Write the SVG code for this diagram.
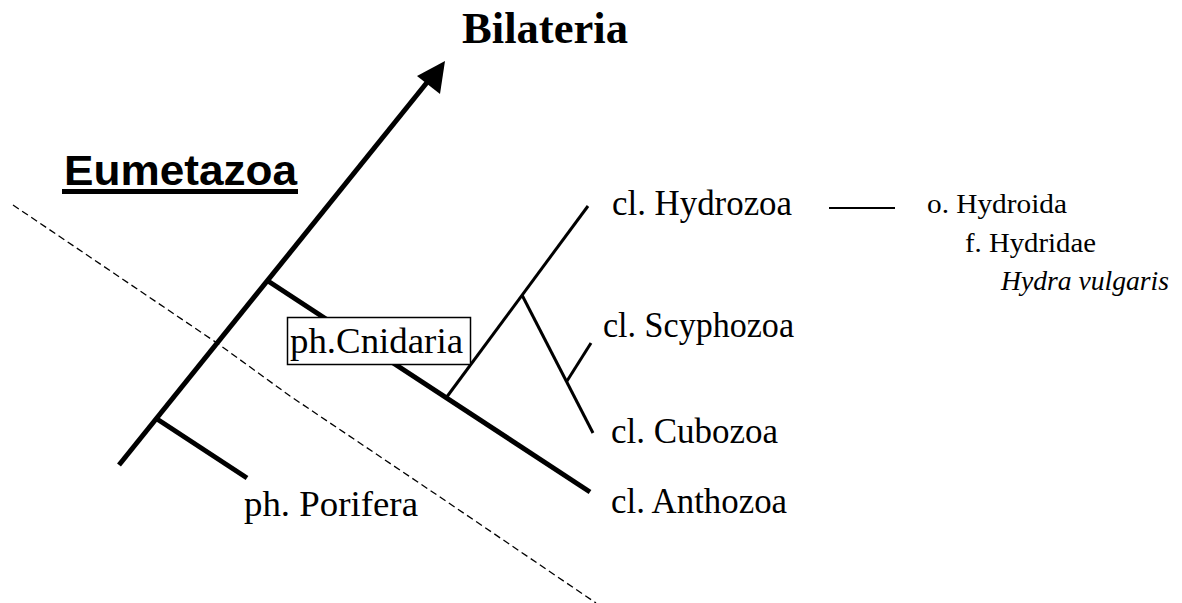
<svg xmlns="http://www.w3.org/2000/svg" width="1182" height="603" viewBox="0 0 1182 603">
<style>
.serif{font-family:"Liberation Serif","Times New Roman",serif;fill:#000}
.cls{font-size:35px}
.ph{font-size:36px}
.small{font-size:28px}
.thick{stroke:#000;stroke-width:5;fill:none;stroke-linecap:butt}
.thin{stroke:#000;stroke-width:3;fill:none}
.dash{stroke:#000;stroke-width:1.3;fill:none;stroke-dasharray:7 4}
</style>
<rect width="1182" height="603" fill="#fff"/>
<g id="connectors">
<polyline class="dash" points="13,205 217,343 290,396 440,497 596,603"/>
<line class="thick" x1="119" y1="465" x2="433" y2="75"/>
<polygon points="445,61 417,76 440,94" fill="#000"/>
<line class="thick" x1="157" y1="419" x2="247" y2="478"/>
<line class="thick" x1="268" y1="281" x2="590" y2="492"/>
<line class="thin" x1="446" y1="398" x2="588" y2="206"/>
<line class="thin" x1="522" y1="295" x2="593" y2="433"/>
<line class="thin" x1="567" y1="381" x2="591" y2="343"/>
<line stroke="#000" stroke-width="2" x1="829" y1="208" x2="895" y2="208"/>
</g>
<g id="bilateria">
<text x="462" y="43" font-family="Liberation Serif, Times New Roman, serif" font-weight="bold" font-size="44" textLength="166" lengthAdjust="spacingAndGlyphs">Bilateria</text>
</g>
<g id="eumetazoa">
<text x="64" y="185" font-family="Liberation Sans, Arial, sans-serif" font-weight="bold" font-size="43" textLength="233" lengthAdjust="spacingAndGlyphs">Eumetazoa</text>
<rect x="62" y="189" width="236" height="5" fill="#000"/>
</g>
<g id="cnidaria">
<rect x="287.5" y="317.5" width="183" height="47" fill="#fff" stroke="#000" stroke-width="1.5"/>
<text class="serif ph" x="290" y="353" textLength="173" lengthAdjust="spacingAndGlyphs">ph.Cnidaria</text>
</g>
<g id="porifera">
<text class="serif ph" x="244" y="516" textLength="174" lengthAdjust="spacingAndGlyphs">ph. Porifera</text>
</g>
<g id="hydrozoa">
<text class="serif cls" x="612" y="215" textLength="180" lengthAdjust="spacingAndGlyphs">cl. Hydrozoa</text>
</g>
<g id="scyphozoa">
<text class="serif cls" x="603" y="337" textLength="191" lengthAdjust="spacingAndGlyphs">cl. Scyphozoa</text>
</g>
<g id="cubozoa">
<text class="serif cls" x="611" y="443" textLength="167" lengthAdjust="spacingAndGlyphs">cl. Cubozoa</text>
</g>
<g id="anthozoa">
<text class="serif cls" x="611" y="513" textLength="176" lengthAdjust="spacingAndGlyphs">cl. Anthozoa</text>
</g>
<g id="hydroida">
<text class="serif small" x="927" y="213" textLength="140" lengthAdjust="spacingAndGlyphs">o. Hydroida</text>
</g>
<g id="hydridae">
<text class="serif small" x="965" y="252" textLength="131" lengthAdjust="spacingAndGlyphs">f. Hydridae</text>
</g>
<g id="hydra">
<text class="serif small" x="1001" y="290" font-style="italic" textLength="168" lengthAdjust="spacingAndGlyphs">Hydra vulgaris</text>
</g>
</svg>
